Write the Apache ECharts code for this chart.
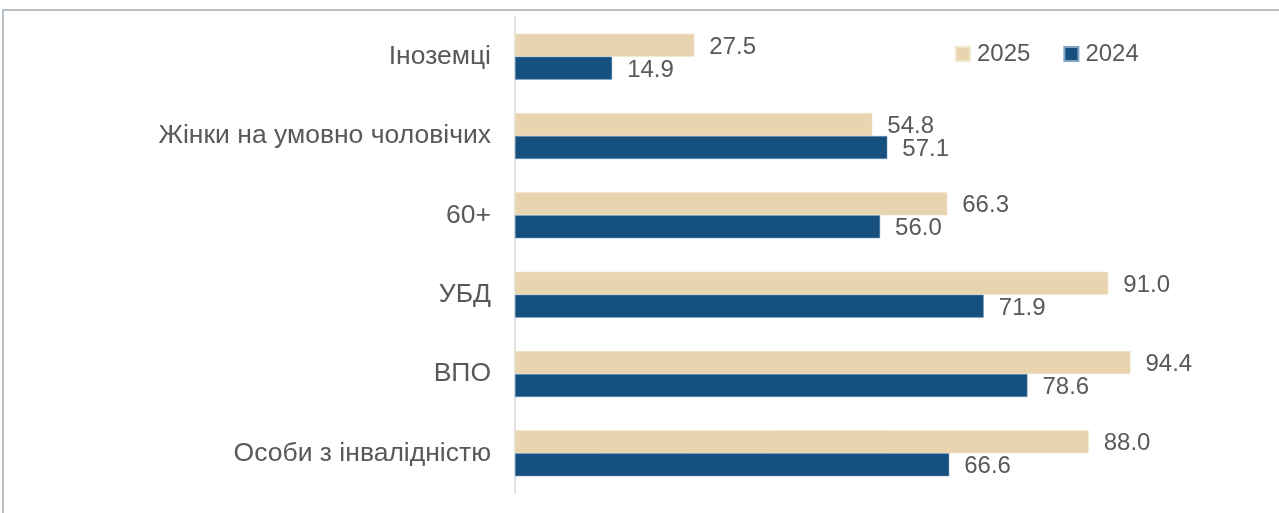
<!DOCTYPE html>
<html>
<head>
<meta charset="utf-8">
<script src="https://cdn.jsdelivr.net/npm/echarts@6/dist/echarts.min.js"></script>
<style>
  html, body { margin: 0; padding: 0; background: #fff; }
  #chart { width: 1279px; height: 513px; }
</style>
</head>
<body>
<div id="chart"></div>
<script>
const FONT = '"Liberation Sans", Arial, Helvetica, sans-serif';
const TEXT = "#595959";
const C2025 = "#E8D5AF";
const C2024 = "#16507F";

const categories = ["Іноземці", "Жінки на умовно чоловічих", "60+", "УБД", "ВПО", "Особи з інвалідністю"];
const v2025 = [27.5, 54.8, 66.3, 91.0, 94.4, 88.0];
const v2024 = [14.9, 57.1, 56.0, 71.9, 78.6, 66.6];

const chart = echarts.init(document.getElementById("chart"), null, { renderer: "canvas" });

const valueLabel = {
  show: true,
  position: "right",
  distance: 15,
  offset: [0, 2],
  color: TEXT,
  fontSize: 24,
  fontFamily: FONT,
  formatter: (p) => p.value.toFixed(1),
};

chart.setOption({
  backgroundColor: "#fff",
  animation: false,
  grid: { left: 515, top: 17, width: 652, height: 476, containLabel: false },
  legend: {
    data: ["2025", "2024"],
    left: 950,
    top: 37,
    icon: "rect",
    itemWidth: 14,
    itemHeight: 14,
    itemGap: 33,
    textStyle: { color: TEXT, fontSize: 24, fontFamily: FONT, padding: [0, 0, 0, 2] },
  },
  xAxis: {
    type: "value",
    min: 0,
    max: 100,
    show: false,
  },
  yAxis: {
    type: "category",
    inverse: true,
    data: categories,
    axisLine: { show: true, lineStyle: { color: "#D9D9D9", width: 1.5 } },
    axisTick: { show: false },
    axisLabel: { color: TEXT, fontSize: 26.5, fontFamily: FONT, margin: 24 },
    splitLine: { show: false },
  },
  series: [
    {
      name: "2025",
      type: "bar",
      data: v2025,
      barWidth: 23,
      barGap: "0%",
      itemStyle: { color: C2025, borderColor: "#F2E6CC", borderWidth: 0.5 },
      label: valueLabel,
    },
    {
      name: "2024",
      type: "bar",
      data: v2024,
      barWidth: 23,
      barGap: "0%",
      itemStyle: { color: C2024, borderColor: "#7FA3C4", borderWidth: 0.5 },
      label: valueLabel,
    },
  ],
  graphic: [
    { type: "line", shape: { x1: 2, y1: 10, x2: 1279, y2: 10 }, style: { stroke: "#B9C0C6", lineWidth: 2 }, silent: true },
    { type: "line", shape: { x1: 3, y1: 10, x2: 3, y2: 513 }, style: { stroke: "#B9C0C6", lineWidth: 2 }, silent: true },
  ],
});
</script>
</body>
</html>
